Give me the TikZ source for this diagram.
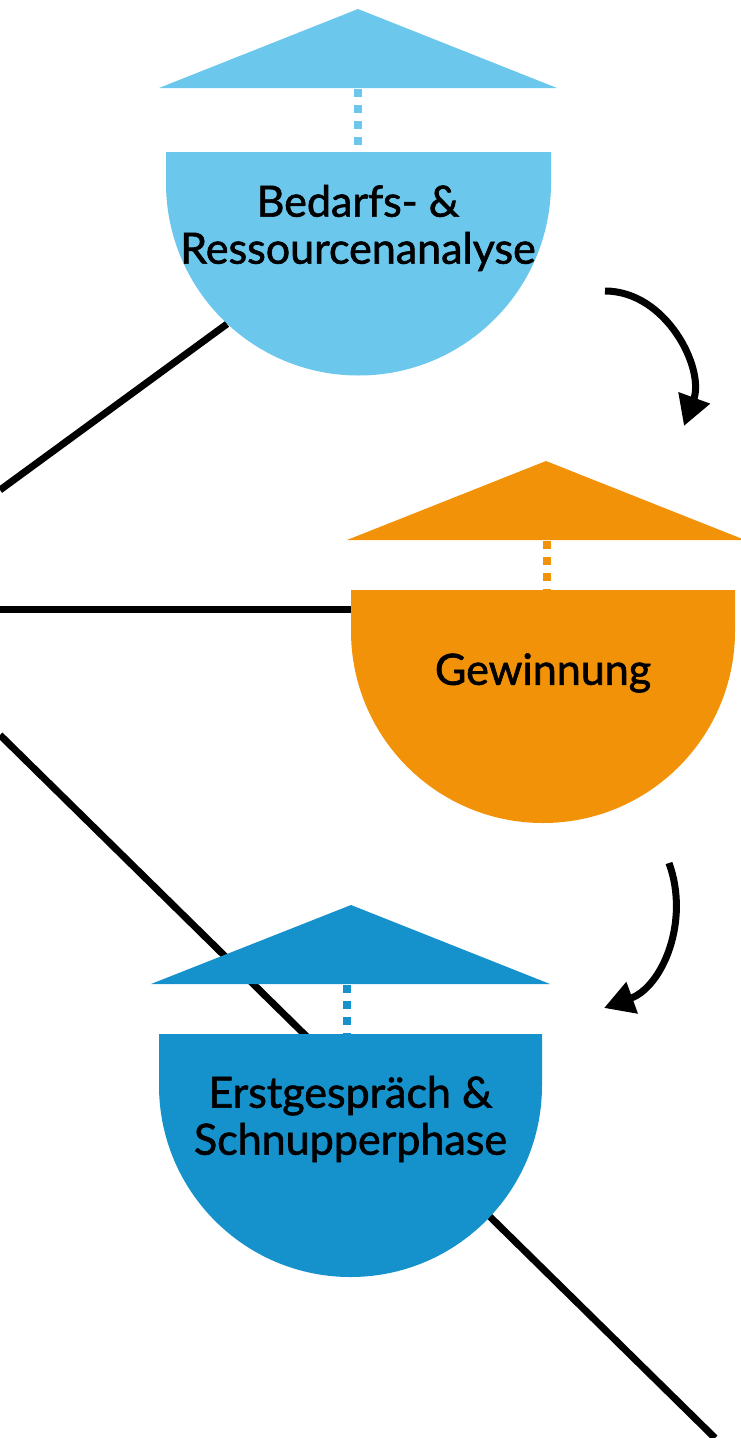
\documentclass[tikz,border=0pt]{standalone}
\usepackage{fontspec}
\setmainfont{Lato}
\newfontfamily\phasefont[FakeBold=1.5]{Lato}
\usepackage{tikz}
\usetikzlibrary{arrows.meta}
\definecolor{sky}{HTML}{6BC7EC}
\definecolor{amber}{HTML}{F29209}
\definecolor{ocean}{HTML}{1591CC}
\tikzset{
    roof/.style = {fill=#1},
    pole/.style = {draw=#1, line width=8pt, dash pattern=on 8pt off 8pt},
    bowl/.style = {fill=#1},
    bowl-ring/.style = {circle, minimum size=#1, inner sep=0pt},
    phase-title/.style = {font=\phasefont\fontsize{43}{47}\selectfont, align=center, text=black},
    link/.style = {draw=black, line width=7pt},
    turn/.style = {draw=black, line width=7pt, -{Triangle[length=30pt,width=32pt]}},
}

\begin{document}
\begin{tikzpicture}[x=1pt,y=1pt]
\useasboundingbox (0,0) rectangle (741,-1438);

% links in the back
\coordinate (in-a) at (0,-490);
\coordinate (in-b) at (0,-609);
\coordinate (in-c) at (0,-735);
\coordinate (out-c) at (715,-1438);
\node[bowl-ring=385pt] (bedarf-ring) at (358.5,-183) {};
\node[bowl-ring=384pt] (gewinn-ring) at (543,-631) {};
\node[bowl-ring=383pt] (erst-ring) at (350.5,-1085.5) {};
\draw[link] (in-a) -- (bedarf-ring.227);
\draw[link] (in-b) -- (in-b -| gewinn-ring.west);
\draw[link] (in-c) -- (out-c);

% Bedarfs- & Ressourcenanalyse
\fill[roof=sky] (159,-88) -- (358,-9) -- (557,-88) -- cycle;
\draw[pole=sky] (358,-89) -- (358,-148);
\fill[bowl=sky] (166,-152) -- (551,-152) -- (551,-183) arc (0:-180:192.5) -- cycle;
\node[phase-title] (bedarf) at (358,-228) {Bedarfs- \&\\Ressourcenanalyse};

% Gewinnung
\fill[roof=amber] (347,-540) -- (546,-461) -- (745,-540) -- cycle;
\draw[pole=amber] (547,-541) -- (547,-590);
\fill[bowl=amber] (351,-590) -- (735,-590) -- (735,-631) arc (0:-180:192) -- cycle;
\node[phase-title] (gewinn) at (543,-673) {Gewinnung};

% Erstgespraech & Schnupperphase
\fill[roof=ocean] (151,-984) -- (351,-905) -- (550,-984) -- cycle;
\draw[pole=ocean] (347,-985) -- (347,-1034);
\fill[bowl=ocean] (159,-1034) -- (542,-1034) -- (542,-1085.5) arc (0:-180:191.5) -- cycle;
\node[phase-title] (erst) at (350.5,-1119) {Erstgespräch \&\\Schnupperphase};

% turns
\coordinate (turn-a) at (605,-291);
\coordinate (turn-a-end) at (684,-426);
\coordinate (turn-b) at (669,-863);
\coordinate (turn-b-end) at (604,-1008);
\draw[turn] (turn-a) to[out=0, in=70] (turn-a-end);
\draw[turn] (turn-b) to[out=-70, in=20] (turn-b-end);
\end{tikzpicture}
\end{document}
